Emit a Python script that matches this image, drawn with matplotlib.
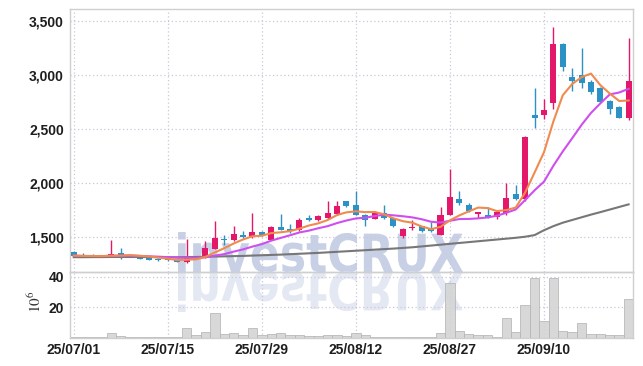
import numpy as np
import pandas as pd
import matplotlib
matplotlib.use('Agg')
import matplotlib.pyplot as plt
import matplotlib.transforms as mtransforms
from matplotlib.textpath import TextPath
from matplotlib.patches import PathPatch
from matplotlib.font_manager import FontProperties

# trading days shown on the chart
dates = ['25/07/01', '25/07/02', '25/07/03', '25/07/04', '25/07/07', '25/07/08', '25/07/09', '25/07/10',
         '25/07/11', '25/07/14', '25/07/15', '25/07/16', '25/07/17', '25/07/18', '25/07/21', '25/07/22',
         '25/07/23', '25/07/24', '25/07/25', '25/07/28', '25/07/29', '25/07/30', '25/07/31', '25/08/01',
         '25/08/04', '25/08/05', '25/08/06', '25/08/07', '25/08/08', '25/08/11', '25/08/12', '25/08/13',
         '25/08/14', '25/08/18', '25/08/19', '25/08/20', '25/08/21', '25/08/22', '25/08/25', '25/08/26',
         '25/08/27', '25/08/28', '25/08/29', '25/09/01', '25/09/02', '25/09/03', '25/09/04', '25/09/05',
         '25/09/08', '25/09/09', '25/09/10', '25/09/11', '25/09/12', '25/09/15', '25/09/16', '25/09/17',
         '25/09/18', '25/09/19', '25/09/22', '25/09/23']

opens = [1358, 1333, 1330, 1323, 1318, 1350, 1325, 1316, 1302, 1290,
         1290, 1288, 1270, 1315, 1302, 1390, 1479, 1466, 1519, 1497,
         1544, 1472, 1590, 1572, 1565, 1674, 1652, 1674, 1711, 1829,
         1791, 1705, 1665, 1723, 1670, 1503, 1578, 1596, 1572, 1519,
         1705, 1854, 1798, 1711, 1705, 1680, 1721, 1900, 1854, 2627,
         2630, 2738, 3287, 2983, 3000, 2937, 2875, 2760, 2704, 2605]
highs = [1368, 1345, 1338, 1330, 1472, 1395, 1340, 1320, 1306, 1300,
         1298, 1292, 1481, 1322, 1456, 1642, 1519, 1596, 1550, 1720,
         1552, 1595, 1711, 1620, 1670, 1705, 1700, 1835, 1835, 1835,
         1922, 1712, 1740, 1798, 1675, 1580, 1658, 1600, 1640, 1776,
         2124, 1928, 1810, 1730, 1776, 1733, 2000, 1980, 2430, 2875,
         2775, 3443, 3295, 3061, 3250, 2950, 2885, 2770, 2710, 3340]
lows = [1318, 1312, 1315, 1314, 1312, 1293, 1320, 1290, 1283, 1278,
        1276, 1265, 1258, 1298, 1300, 1385, 1425, 1460, 1488, 1490,
        1505, 1465, 1560, 1530, 1555, 1650, 1645, 1665, 1705, 1780,
        1700, 1595, 1660, 1668, 1590, 1490, 1565, 1545, 1545, 1515,
        1700, 1790, 1725, 1672, 1678, 1665, 1705, 1845, 1830, 2512,
        2590, 2682, 3039, 2850, 2880, 2820, 2740, 2640, 2601, 2580]
closes = [1325, 1318, 1320, 1318, 1336, 1333, 1333, 1295, 1288, 1283,
          1282, 1270, 1310, 1305, 1395, 1490, 1466, 1528, 1494, 1544,
          1512, 1590, 1565, 1549, 1658, 1658, 1689, 1720, 1782, 1782,
          1705, 1652, 1726, 1674, 1596, 1572, 1584, 1549, 1549, 1705,
          1870, 1814, 1736, 1726, 1683, 1730, 1860, 1854, 2424, 2605,
          2673, 3287, 3070, 2946, 2924, 2838, 2750, 2682, 2601, 2946]

# 60-day average as drawn (uses history before the visible window)
ma60 = [1310, 1310, 1311, 1311, 1312, 1312, 1312, 1312, 1311, 1311,
        1310, 1310, 1311, 1312, 1314, 1316, 1318, 1320, 1322, 1325,
        1328, 1331, 1334, 1338, 1342, 1346, 1350, 1355, 1360, 1365,
        1370, 1375, 1380, 1385, 1390, 1396, 1402, 1410, 1418, 1426,
        1434, 1442, 1450, 1458, 1466, 1474, 1482, 1490, 1500, 1515,
        1560, 1598, 1630, 1655, 1680, 1705, 1728, 1752, 1776, 1800]

# volume, millions of shares
volume = [0.6, 0.4, 0.3, 0.4, 3.0, 0.8, 0.4, 0.3, 0.3, 0.3,
          0.3, 0.5, 6.3, 1.7, 3.5, 16.4, 2.4, 3.0, 1.7, 6.3,
          1.7, 2.4, 3.0, 1.5, 1.5, 1.2, 1.2, 1.5, 1.5, 1.2,
          2.8, 1.7, 0.5, 0.5, 0.4, 0.6, 0.4, 0.3, 0.5, 2.8,
          35.7, 4.1, 2.4, 1.5, 1.5, 0.5, 13.1, 3.5, 21.1, 39.0,
          10.8, 39.0, 4.5, 3.5, 9.3, 2.4, 2.4, 1.5, 1.5, 25.5]

price_ticks = [1500, 2000, 2500, 3000, 3500]
vol_ticks = [20, 40]

df = pd.DataFrame({'Open': opens, 'High': highs, 'Low': lows, 'Close': closes, 'Volume': volume})
df['MA5'] = df['Close'].rolling(5, min_periods=1).mean()
df['MA10'] = df['Close'].rolling(10, min_periods=1).mean()
df['MA60'] = ma60

UP = '#e3186a'
DOWN = '#2c92c6'
GRID = '#c9c9db'
SPINE = '#cfcfcf'
TICKFONT = ['Liberation Sans', 'DejaVu Sans']

plt.rcParams['mathtext.fontset'] = 'stix'

W, H = 643, 366
fig = plt.figure(figsize=(W / 100, H / 100), dpi=100, facecolor='white')
left, right = 69.5, 633.3
ax = fig.add_axes([left / W, (H - 272.3) / H, (right - left) / W, (272.3 - 9) / H])
ax2 = fig.add_axes([left / W, (H - 337.5) / H, (right - left) / W, (337.5 - 272.3) / H], sharex=ax)
for a in (ax, ax2):
    a.set_facecolor('none')
    for s in a.spines.values():
        s.set_color(SPINE)
        s.set_linewidth(1.0)
    a.grid(True, linestyle=(0, (1, 2)), color=GRID, linewidth=0.9)
    a.set_axisbelow(True)
    a.tick_params(length=0, pad=4, labelsize=10, labelcolor='#1e1e1e')

x = np.arange(len(df))
up = df['Close'] >= df['Open']
colors = np.where(up, UP, DOWN)

# candles
ax.vlines(x, df['Low'], df['High'], colors=colors, linewidth=1.0, zorder=2)
body_bottom = np.minimum(df['Open'], df['Close'])
body_height = np.maximum((df['Close'] - df['Open']).abs(), 8)
ax.bar(x, body_height, bottom=body_bottom, width=0.64, color=colors, linewidth=0, zorder=3)

# moving averages
ax.plot(x, df['MA60'], color='#777777', linewidth=1.5, zorder=4)
ax.plot(x, df['MA10'], color='#cf4ef0', linewidth=1.5, zorder=4)
ax.plot(x, df['MA5'], color='#f08a4e', linewidth=1.5, zorder=5)

ax.set_ylim(1170, 3612)
ax.set_xlim(-0.45, 59.5)
ax.set_yticks(price_ticks)
ax.set_yticklabels([f'{v:,}' for v in price_ticks])
plt.setp(ax.get_xticklabels(), visible=False)

# volume
ax2.bar(x, df['Volume'], width=1.0, color='#d4d4d4', edgecolor='#b4b4b4', linewidth=0.6, alpha=0.9, zorder=2)
ax2.set_ylim(0, 42.9)
ax2.set_yticks(vol_ticks)
ax2.set_xticks(x[::10])
ax2.set_xticklabels(dates[::10])
ax2.set_ylabel(r'$10^6$', fontsize=11, color='#333333')
ax2.yaxis.set_label_coords(-0.046, 0.55)

for lab in ax.get_yticklabels() + ax2.get_yticklabels() + ax2.get_xticklabels():
    lab.set_family(TICKFONT)
    lab.set_fontweight('bold')

# watermark with reflection
fp = FontProperties(family='DejaVu Sans', weight='bold')
tp = TextPath((0, 0), 'investCRUX', size=1, prop=fp)
ext = tp.get_extents()
x0, x1, base, cap = 178, 463, 272, 40
sx = (x1 - x0) / ext.width
sy = cap / ext.y1
for sign, col in ((1, '#c8d0e6'), (-1, '#e4e8f2')):
    tr = (mtransforms.Affine2D().translate(-ext.x0, 0).scale(sx, sign * sy)
          .translate(x0, H - base).scale(1 / W, 1 / H) + fig.transFigure)
    fig.add_artist(PathPatch(tp, transform=tr, facecolor=col, edgecolor='none', zorder=-1))

fig.savefig('out.png', dpi=100, facecolor='white')
